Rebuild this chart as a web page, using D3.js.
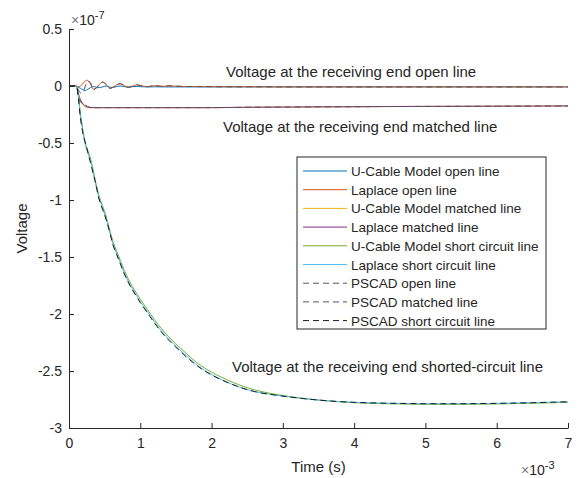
<!DOCTYPE html>
<html>
<head>
<meta charset="utf-8">
<script src="https://cdn.jsdelivr.net/npm/d3@7"></script>
<style>
  body { margin: 0; background: #fff; }
  svg text { font-family: "Liberation Sans", Arial, sans-serif; fill: #262626; }
</style>
</head>
<body>
<div id="chart"></div>
<script>
// time axis (x 1e-3 s) shared by every series
const time = [0, 0.05, 0.1, 0.13, 0.16, 0.2, 0.23, 0.26, 0.3, 0.34, 0.38, 0.42, 0.47, 0.52, 0.57, 0.62, 0.67, 0.72, 0.77, 0.83, 0.89, 0.95, 1.0, 1.1, 1.2, 1.3, 1.4, 1.6, 1.8, 2.0, 2.3, 2.6, 3.0, 3.5, 4.0, 4.5, 5.0, 5.5, 6.0, 6.5, 7.0];

// voltages (x 1e-7)
const ucableOpen = [0, 0, 0, -0.01, -0.02, -0.035, -0.04, -0.03, -0.015, -0.005, -0.01, -0.015, -0.008, 0.0, -0.01, -0.012, -0.005, 0.0, -0.005, -0.01, -0.006, -0.004, -0.006, -0.008, -0.007, -0.008, -0.008, -0.008, -0.008, -0.008, -0.008, -0.008, -0.008, -0.008, -0.008, -0.008, -0.008, -0.008, -0.008, -0.008, -0.008];
const laplaceOpen = [0, 0, 0, -0.005, 0.0, 0.025, 0.045, 0.05, 0.02, -0.028, -0.02, 0.01, 0.035, 0.015, -0.02, -0.01, 0.01, 0.02, 0.005, -0.012, -0.002, 0.01, 0.004, -0.006, 0.003, -0.003, 0.001, -0.004, -0.005, -0.006, -0.007, -0.007, -0.008, -0.008, -0.008, -0.008, -0.008, -0.008, -0.008, -0.008, -0.008];
const pscadOpen = [0, 0, 0, -0.03, -0.06, -0.045, 0.0, 0.04, 0.03, -0.025, -0.02, 0.008, 0.033, 0.015, -0.02, -0.01, 0.01, 0.02, 0.005, -0.012, -0.002, 0.01, 0.004, -0.006, 0.003, -0.003, 0.001, -0.004, -0.005, -0.006, -0.007, -0.007, -0.008, -0.008, -0.008, -0.008, -0.008, -0.008, -0.008, -0.008, -0.008];

const ucableMatched = [0, 0, 0, -0.08, -0.13, -0.17, -0.185, -0.19, -0.19, -0.19, -0.19, -0.19, -0.19, -0.19, -0.19, -0.19, -0.19, -0.19, -0.19, -0.19, -0.19, -0.19, -0.19, -0.19, -0.19, -0.19, -0.19, -0.19, -0.19, -0.19, -0.188, -0.186, -0.185, -0.183, -0.182, -0.18, -0.179, -0.178, -0.177, -0.176, -0.175];
const laplaceMatched = [0, 0, 0, -0.06, -0.12, -0.16, -0.175, -0.183, -0.187, -0.19, -0.19, -0.19, -0.19, -0.19, -0.19, -0.19, -0.19, -0.19, -0.19, -0.19, -0.19, -0.19, -0.19, -0.19, -0.19, -0.19, -0.19, -0.19, -0.19, -0.19, -0.188, -0.186, -0.185, -0.183, -0.182, -0.18, -0.179, -0.178, -0.177, -0.176, -0.175];
const pscadMatched = [0, 0, 0, -0.1, -0.14, -0.15, -0.165, -0.18, -0.19, -0.19, -0.19, -0.19, -0.19, -0.19, -0.19, -0.19, -0.19, -0.19, -0.19, -0.19, -0.19, -0.19, -0.19, -0.19, -0.19, -0.19, -0.19, -0.19, -0.19, -0.19, -0.188, -0.186, -0.185, -0.183, -0.182, -0.18, -0.179, -0.178, -0.177, -0.176, -0.175];

const ucableShort = [0, 0, 0, -0.07, -0.24, -0.4, -0.5, -0.56, -0.63, -0.74, -0.86, -0.96, -1.05, -1.14, -1.26, -1.37, -1.45, -1.53, -1.61, -1.69, -1.76, -1.82, -1.87, -1.96, -2.05, -2.13, -2.2, -2.32, -2.43, -2.51, -2.6, -2.665, -2.715, -2.755, -2.778, -2.788, -2.792, -2.792, -2.789, -2.783, -2.775];
const laplaceShort = [0, 0, 0, -0.08, -0.26, -0.42, -0.52, -0.58, -0.65, -0.76, -0.88, -0.98, -1.07, -1.16, -1.28, -1.39, -1.47, -1.55, -1.63, -1.71, -1.78, -1.84, -1.89, -1.98, -2.07, -2.15, -2.22, -2.34, -2.45, -2.53, -2.62, -2.68, -2.72, -2.755, -2.775, -2.783, -2.787, -2.787, -2.784, -2.778, -2.77];
const pscadShort = [0, 0, 0, -0.1, -0.28, -0.43, -0.5, -0.57, -0.67, -0.77, -0.87, -0.99, -1.08, -1.17, -1.28, -1.4, -1.48, -1.56, -1.64, -1.72, -1.79, -1.85, -1.9, -1.99, -2.08, -2.16, -2.23, -2.35, -2.455, -2.535, -2.62, -2.68, -2.72, -2.755, -2.775, -2.783, -2.787, -2.787, -2.784, -2.778, -2.77];

const xTicks = [0, 1, 2, 3, 4, 5, 6, 7];
const yTicks = [0.5, 0, -0.5, -1, -1.5, -2, -2.5, -3];

const series = [
    {name: "U-Cable Model open line", values: ucableOpen, color: "#0072BD", dash: null},
    {name: "Laplace open line", values: laplaceOpen, color: "#D95319", dash: null},
    {name: "U-Cable Model matched line", values: ucableMatched, color: "#EDB120", dash: null},
    {name: "Laplace matched line", values: laplaceMatched, color: "#7E2F8E", dash: null},
    {name: "U-Cable Model short circuit line", values: ucableShort, color: "#77AC30", dash: null},
    {name: "Laplace short circuit line", values: laplaceShort, color: "#4DBEEE", dash: null},
    {name: "PSCAD open line", values: pscadOpen, color: "#555555", dash: "6,4"},
    {name: "PSCAD matched line", values: pscadMatched, color: "#555555", dash: "6,4"},
    {name: "PSCAD short circuit line", values: pscadShort, color: "#1a1a1a", dash: "6,4"}
];

const W = 581, H = 478;
const m = {left: 69, right: 13, top: 29, bottom: 50};

const svg = d3.select("#chart").append("svg")
    .attr("width", W)
    .attr("height", H);

const x = d3.scaleLinear().domain([0, 7]).range([m.left, W - m.right]);
const y = d3.scaleLinear().domain([-3, 0.5]).range([H - m.bottom, m.top]);

svg.append("clipPath").attr("id", "plotclip")
    .append("rect")
    .attr("x", m.left).attr("y", m.top)
    .attr("width", W - m.left - m.right)
    .attr("height", H - m.top - m.bottom);

// curves
const line = d3.line()
    .x((d, i) => x(time[i]))
    .y(d => y(d))
    .curve(d3.curveCatmullRom);

const plot = svg.append("g").attr("clip-path", "url(#plotclip)");
series.forEach(s => {
    plot.append("path")
        .attr("d", line(s.values))
        .attr("fill", "none")
        .attr("stroke", s.color)
        .attr("stroke-width", 1)
        .attr("stroke-dasharray", s.dash);
});

// axes
const xAxis = svg.append("g")
    .attr("transform", `translate(0,${H - m.bottom})`)
    .call(d3.axisBottom(x).tickValues(xTicks).tickSizeInner(-5).tickSizeOuter(0).tickPadding(10)
        .tickFormat(d3.format("d")));
const yAxis = svg.append("g")
    .attr("transform", `translate(${m.left},0)`)
    .call(d3.axisLeft(y).tickValues(yTicks).tickSizeInner(-5).tickSizeOuter(0).tickPadding(7)
        .tickFormat(d => d === 0 ? "0" : String(d)));
[xAxis, yAxis].forEach(a => {
    a.select(".domain").attr("stroke", "#262626");
    a.selectAll(".tick line").attr("stroke", "#262626");
    a.selectAll(".tick text").attr("font-size", 14).attr("fill", "#262626");
});

// axis labels
svg.append("text")
    .attr("x", (m.left + W - m.right) / 2)
    .attr("y", 472)
    .attr("text-anchor", "middle")
    .attr("font-size", 15)
    .text("Time (s)");
svg.append("text")
    .attr("transform", `translate(27,${(m.top + H - m.bottom) / 2}) rotate(-90)`)
    .attr("text-anchor", "middle")
    .attr("font-size", 15)
    .text("Voltage");

// exponent labels
function exponent(px, py, pow) {
    const t = svg.append("text")
        .attr("x", px).attr("y", py)
        .attr("font-size", 14);
    t.append("tspan").attr("fill", "#777").text("\u00d7");
    t.append("tspan").text("10");
    t.append("tspan").attr("dy", -6).attr("font-size", 11).text(pow);
}
exponent(71, 25, "-7");
exponent(521, 475, "-3");

// annotations
const notes = [
    {text: "Voltage at the receiving end open line", px: 226, py: 77},
    {text: "Voltage at the receiving end matched line", px: 223, py: 132},
    {text: "Voltage at the receiving end shorted-circuit line", px: 232, py: 372}
];
notes.forEach(n => {
    svg.append("text")
        .attr("x", n.px).attr("y", n.py)
        .attr("font-size", 15)
        .text(n.text);
});

// legend
const lg = svg.append("g").attr("transform", "translate(297,157)");
lg.append("rect")
    .attr("x", 0).attr("y", 0)
    .attr("width", 249).attr("height", 172)
    .attr("fill", "#fff")
    .attr("stroke", "#262626")
    .attr("stroke-width", 1);
series.forEach((s, i) => {
    const row = lg.append("g").attr("transform", `translate(0,${14 + i * 18.7})`);
    row.append("line")
        .attr("x1", 6).attr("x2", 50)
        .attr("stroke", s.color)
        .attr("stroke-width", 1)
        .attr("stroke-dasharray", s.dash);
    row.append("text")
        .attr("x", 54).attr("y", 5)
        .attr("font-size", 13.5)
        .text(s.name);
});
</script>
</body>
</html>
